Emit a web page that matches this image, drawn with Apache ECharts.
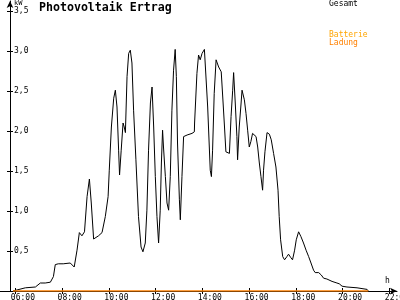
<!DOCTYPE html>
<html>
<head>
<meta charset="utf-8">
<script src="https://cdn.jsdelivr.net/npm/echarts@6/dist/echarts.min.js"></script>
<style>html,body{margin:0;padding:0;background:#fff;}#c{width:400px;height:300px;}</style>
</head>
<body>
<div id="c"></div>
<script>
const hourTicks = [6, 8, 10, 12, 14, 16, 18, 20, 22];
const kwTicks = [0.5, 1, 1.5, 2, 2.5, 3, 3.5];

const times = [5.9, 6.43, 6.86, 7.07, 7.28, 7.5, 7.63, 7.71, 7.84, 8.05, 8.35, 8.52, 8.64, 8.74, 8.85, 8.96, 9.07, 9.17, 9.25, 9.35, 9.56, 9.71, 9.85, 9.97, 10.02, 10.11, 10.21, 10.28, 10.35, 10.42, 10.46, 10.53, 10.61, 10.66, 10.71, 10.78, 10.85, 10.92, 10.99, 11.06, 11.16, 11.27, 11.38, 11.46, 11.56, 11.63, 11.70, 11.78, 11.85, 11.92, 11.99, 12.06, 12.13, 12.20, 12.25, 12.30, 12.34, 12.42, 12.49, 12.56, 12.63, 12.70, 12.77, 12.84, 12.89, 12.94, 13.02, 13.06, 13.13, 13.20, 13.35, 13.56, 13.66, 13.67, 13.77, 13.84, 13.91, 13.99, 14.09, 14.16, 14.23, 14.30, 14.34, 14.39, 14.44, 14.51, 14.59, 14.70, 14.81, 14.89, 14.95, 15.01, 15.08, 15.16, 15.23, 15.30, 15.34, 15.41, 15.48, 15.51, 15.58, 15.66, 15.70, 15.80, 15.87, 15.94, 16.01, 16.08, 16.15, 16.22, 16.30, 16.37, 16.44, 16.51, 16.58, 16.62, 16.68, 16.77, 16.87, 16.95, 17.05, 17.15, 17.24, 17.29, 17.35, 17.44, 17.52, 17.62, 17.69, 17.78, 17.86, 17.95, 18.02, 18.12, 18.22, 18.33, 18.44, 18.55, 18.65, 18.76, 18.83, 18.98, 19.09, 19.19, 19.33, 19.55, 19.76, 19.86, 19.98, 20.19, 20.62, 21.05, 21.10];
const gesamt = [0.0, 0.04, 0.05, 0.10, 0.10, 0.11, 0.18, 0.33, 0.34, 0.34, 0.35, 0.30, 0.51, 0.73, 0.69, 0.74, 1.18, 1.40, 1.10, 0.65, 0.69, 0.73, 0.93, 1.18, 1.51, 2.05, 2.41, 2.51, 2.30, 1.76, 1.45, 1.76, 2.10, 2.05, 1.98, 2.68, 2.97, 3.01, 2.85, 2.26, 1.64, 0.93, 0.55, 0.49, 0.60, 1.01, 1.76, 2.35, 2.55, 2.05, 1.43, 0.93, 0.60, 1.01, 1.60, 2.01, 1.80, 1.43, 1.10, 1.01, 1.43, 2.26, 2.76, 3.02, 2.68, 1.85, 1.14, 0.89, 1.43, 1.93, 1.95, 1.97, 1.99, 2.10, 2.72, 2.95, 2.89, 2.97, 3.02, 3.01, 2.30, 1.80, 1.51, 1.43, 1.76, 2.47, 2.89, 2.80, 2.74, 2.35, 2.05, 1.74, 1.76, 1.72, 2.18, 2.51, 2.73, 2.35, 1.93, 1.64, 2.05, 2.35, 2.51, 2.39, 2.22, 2.01, 1.80, 1.87, 1.97, 1.99, 1.93, 1.80, 1.60, 1.43, 1.26, 1.51, 1.74, 1.98, 1.96, 1.89, 1.72, 1.55, 1.26, 0.93, 0.64, 0.43, 0.39, 0.43, 0.46, 0.42, 0.39, 0.51, 0.64, 0.74, 0.68, 0.60, 0.51, 0.43, 0.35, 0.26, 0.23, 0.23, 0.20, 0.16, 0.15, 0.12, 0.10, 0.09, 0.06, 0.05, 0.04, 0.02, 0.0];
const ladungTimes = [5.9, 21.1];
const ladungValues = [0, 0];

const FONT = 'DejaVu Sans Mono';
const chart = echarts.init(document.getElementById('c'), null, {renderer: 'canvas'});
const xMin = 5.345, xMax = 22.33;
const hourFmt = v => String(Math.round(v)).padStart(2, '0') + ':00';
const kwFmt = v => v.toFixed(1).replace('.', ',');

chart.setOption({
  animation: false,
  backgroundColor: '#fff',
  title: {
    text: 'Photovoltaik Ertrag', left: 39, top: 2, padding: 0,
    textStyle: {fontFamily: FONT, fontSize: 11.6, fontWeight: 'bold', color: '#000'}
  },
  grid: {left: 0, right: 3, top: 1, bottom: 9, containLabel: false, outerBoundsMode: 'none'},
  xAxis: [{
    type: 'value', min: xMin, max: xMax, position: 'bottom',
    axisLine: {show: true, symbol: ['none', 'arrow'], symbolSize: [5, 7], lineStyle: {color: '#000', width: 1}},
    axisTick: {show: true, customValues: hourTicks, length: 3, lineStyle: {color: '#000'}},
    axisLabel: {show: true, customValues: hourTicks.map(h => h - 0.19), align: 'left', formatter: hourFmt,
      fontFamily: FONT, fontSize: 8, color: '#000', margin: 3, hideOverlap: false},
    splitLine: {show: false}
  }, {
    type: 'value', min: xMin, max: xMax, position: 'bottom',
    axisLine: {show: false},
    axisTick: {show: true, inside: true, customValues: hourTicks, length: 3, lineStyle: {color: '#000'}},
    axisLabel: {show: false}, splitLine: {show: false}
  }],
  yAxis: [{
    type: 'value', min: 0, max: 3.625, offset: -10, position: 'left',
    axisLine: {show: true, symbol: ['none', 'arrow'], symbolSize: [5, 7], lineStyle: {color: '#000', width: 1}},
    axisTick: {show: true, customValues: kwTicks, length: 3, lineStyle: {color: '#000'}},
    axisLabel: {show: true, inside: true, customValues: kwTicks, formatter: kwFmt,
      fontFamily: FONT, fontSize: 8, color: '#000', margin: 4},
    splitLine: {show: false}
  }, {
    type: 'value', min: 0, max: 3.625, offset: -10, position: 'left',
    axisLine: {show: false},
    axisTick: {show: true, inside: true, customValues: kwTicks, length: 3, lineStyle: {color: '#000'}},
    axisLabel: {show: false}, splitLine: {show: false}
  }],
  graphic: [
    {type: 'text', left: 14, top: 0, style: {text: 'kW', fontFamily: FONT, fontSize: 7, fill: '#000'}},
    {type: 'text', left: 385, top: 277, style: {text: 'h', fontFamily: FONT, fontSize: 8, fill: '#000'}},
    {type: 'text', left: 329, top: 0, style: {text: 'Gesamt', fontFamily: FONT, fontSize: 8, fill: '#000'}},
    {type: 'text', left: 329, top: 31, style: {text: 'Batterie', fontFamily: FONT, fontSize: 8, fill: '#FFA500'}},
    {type: 'text', left: 329, top: 39, style: {text: 'Ladung', fontFamily: FONT, fontSize: 8, fill: '#FF8000'}}
  ],
  series: [{
    name: 'Gesamt', type: 'line', xAxisIndex: 0, yAxisIndex: 0, symbol: 'none',
    lineStyle: {color: '#000', width: 1}, data: times.map((t, i) => [t, gesamt[i]])
  }, {
    name: 'Batterie Ladung', type: 'line', xAxisIndex: 0, yAxisIndex: 0, symbol: 'none',
    lineStyle: {color: '#FF8000', width: 1.5}, data: ladungTimes.map((t, i) => [t, ladungValues[i]])
  }]
});
</script>
</body>
</html>
